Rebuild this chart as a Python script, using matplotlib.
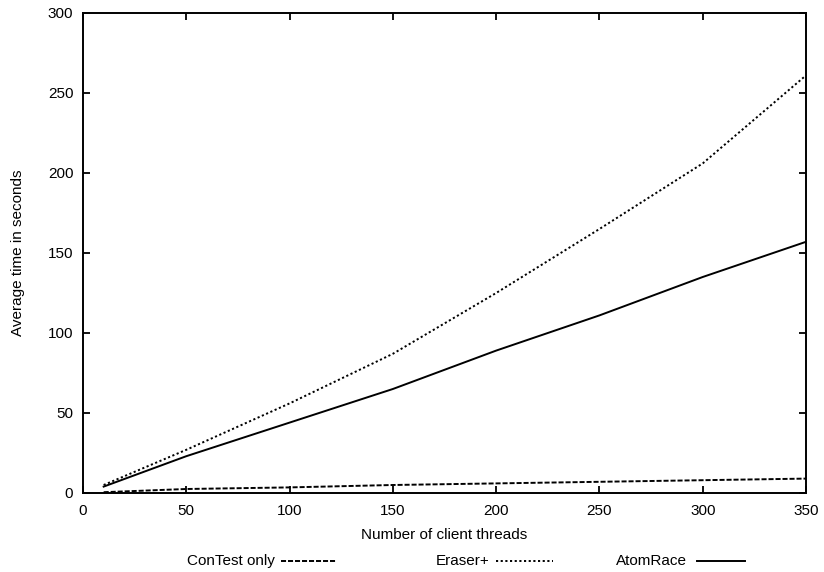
import numpy as np
import matplotlib.pyplot as plt
from matplotlib.lines import Line2D

plt.rcParams['font.family'] = ['Liberation Sans', 'DejaVu Sans']

threads = [10, 50, 100, 150, 200, 250, 300, 350]
contest = [0.5, 2.5, 3.5, 5, 6, 7, 8, 9]
eraser = [5, 27, 56, 87, 125, 165, 206, 261]
atomrace = [4, 23, 44, 65, 89, 111, 135, 157]

W, H = 824, 572
fig = plt.figure(figsize=(W / 100, H / 100), dpi=100)
ax = fig.add_axes([83 / W, 1 - 493 / H, 723 / W, 480 / H])

LW = 1.4
styles = [
    ('ConTest only', contest, (2.6, 1.0)),
    ('Eraser+', eraser, (1.1, 1.3)),
    ('AtomRace', atomrace, None),
]
for name, vals, dash in styles:
    ln, = ax.plot(threads, vals, color='black', lw=LW)
    if dash:
        ln.set_dashes(dash)

ax.set_xlim(0, 350)
ax.set_ylim(0, 300)
ax.set_xticks(np.arange(0, 351, 50))
ax.set_yticks(np.arange(0, 301, 50))
ax.tick_params(direction='in', top=True, right=True, length=5, width=1.3, labelsize=11)
ax.tick_params(axis='x', pad=8)
ax.tick_params(axis='y', pad=7)
for s in ax.spines.values():
    s.set_linewidth(1.4)

ax.set_xlabel('Number of client threads', fontsize=11, va='center')
ax.xaxis.set_label_coords(0.5, -0.088)
ax.set_ylabel('Average time in seconds', fontsize=11, va='center')
ax.yaxis.set_label_coords(-0.09, 0.5)

# key below the plot, gnuplot style: text then sample line
key_y = 1 - 561 / H
key_pos = [(275, 281, 337), (490, 496, 553), (687, 697, 745)]
for (name, vals, dash), (tx, x0, x1) in zip(styles, key_pos):
    fig.text(tx / W, key_y, name, ha='right', va='center', fontsize=11)
    ln = Line2D([x0 / W, x1 / W], [key_y, key_y], transform=fig.transFigure,
                color='black', lw=LW)
    if dash:
        ln.set_dashes(dash)
    fig.add_artist(ln)

fig.savefig('out.png', dpi=100)
